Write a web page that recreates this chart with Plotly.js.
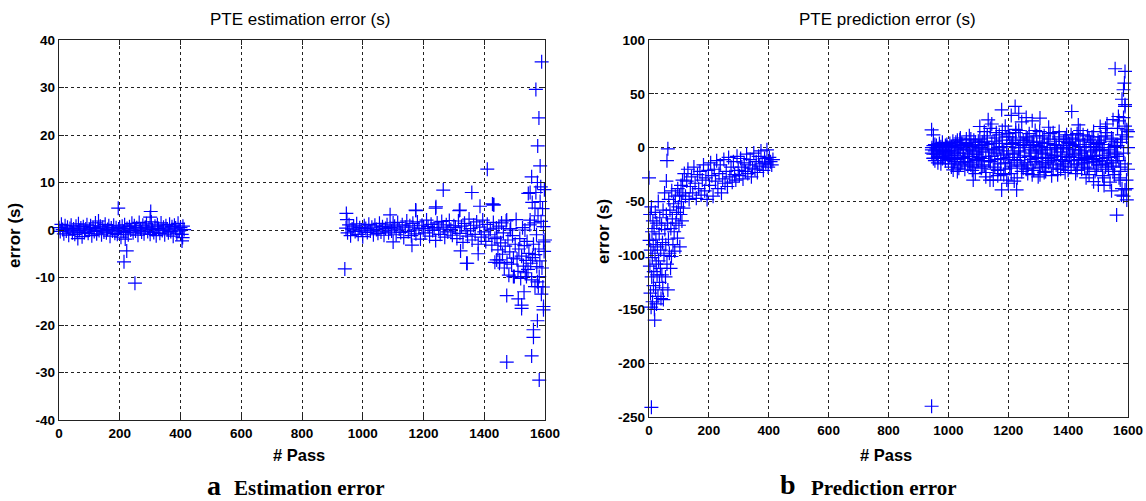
<!DOCTYPE html>
<html>
<head>
<meta charset="utf-8">
<script src="https://cdn.plot.ly/plotly-3.0.1.min.js"></script>
<style>html,body{margin:0;padding:0;background:#fff;}#chart{width:1146px;height:501px;}</style>
</head>
<body>
<div id="chart"></div>
<script>
// ---------- Panel a: PTE estimation error ----------
var estPassA = [0,4,8,12,16,20,24,28,32,36,40,44,48,52,56,60,64,68,72,76,80,84,88,92,96,100,104,108,112,116,120,124,128,132,136,140,144,148,152,156,160,164,168,172,176,180,184,188,192,196,200,204,208,212,216,220,224,228,232,236,240,244,248,252,256,260,264,268,272,276,280,284,288,292,296,300,304,308,312,316,320,324,328,332,336,340,344,348,352,356,360,364,368,372,376,380,384,388,392,396,400,404,408,412];
var estErrA = [0.5,-0.3,1.2,0.1,-0.8,0.9,-0.2,0.6,-1.1,0.3,1.0,-0.6,0.2,-0.9,0.8,-0.4,1.3,-0.1,0.4,-1.4,0.7,-0.5,0.2,1.1,-0.7,0.0,0.9,-1.2,0.5,-0.3,1.5,-0.8,0.3,-0.1,0.8,-1.0,0.6,-0.4,1.2,-0.6,0.1,0.9,-1.3,0.4,-0.2,1.0,-0.7,0.5,-0.9,0.2,0.6,-1.5,0.8,-0.3,1.1,-0.5,0.3,-1.0,0.7,0.0,1.4,-0.6,0.9,-0.2,0.5,-1.1,1.6,0.2,-0.4,1.0,-0.8,0.6,1.3,-0.3,0.4,-0.9,1.7,0.1,-0.5,0.8,-1.2,1.1,0.3,-0.7,1.5,-0.1,0.6,-1.0,0.9,0.2,-0.6,1.2,-0.3,0.7,-1.3,1.0,0.4,-0.8,1.4,-0.2,0.5,-0.9,0.8,0.1];
var estPassAOut = [195,214,223,218,250,300,302,407,405,62,130];
var estErrAOut  = [4.6,-6.7,-4.4,-1.9,-11.2,2.7,3.9,-1.6,-2.3,-1.8,1.9];

var estPassB = [945,950,955,960,965,970,975,980,985,990,995,1000,1005,1010,1015,1020,1025,1030,1035,1040,1045,1050,1055,1060,1065,1070,1075,1080,1085,1090,1095,1100,1105,1110,1115,1120,1125,1130,1135,1140,1145,1150,1155,1160,1165,1170,1175,1180,1185,1190,1195,1200,1205,1210,1215,1220,1225,1230,1235,1240,1245,1250,1255,1260,1265,1270,1275,1280,1285,1290,1295,1300,1305,1310,1315,1320,1325,1330,1335,1340,1345,1350,1355,1360,1365,1370,1375,1380,1385,1390,1395,1400,1405,1410,1415,1420,1425,1430,1435,1440];
var estErrB = [0.4,-0.6,1.1,-1.2,0.2,0.8,-0.3,1.3,-0.9,0.5,0.0,-1.4,0.9,0.3,-0.5,1.2,-0.2,0.6,-1.0,1.0,0.1,-0.7,1.4,-0.4,0.7,-1.1,0.3,1.1,-0.6,0.5,-0.2,1.5,
  0.8,-1.0,1.6,0.2,-0.5,1.1,-1.6,0.6,1.9,-0.3,0.9,-1.2,1.4,0.0,-0.8,1.7,0.4,-1.9,1.0,0.3,-0.6,2.1,0.7,-1.3,1.2,-0.1,0.5,-2.2,1.5,0.2,-0.9,1.8,0.6,-1.5,1.1,-0.4,2.0,0.1,-1.1,0.9,
  0.5,-1.8,1.9,-0.7,0.8,-2.6,1.4,-0.2,-1.3,2.3,0.3,-2.1,1.0,-0.9,1.7,-3.0,0.6,-1.5,2.1,-0.4,-2.4,1.2,-1.0,0.2,-3.2,1.6,-1.8,0.4];
var estPassC = [1442,1445,1448,1451,1454,1457,1460,1463,1466,1469,1472,1475,1478,1481,1484,1487,1490,1493,1496,1499,1502,1505,1508,1511,1514,1517,1520,1523,1526,1529,1532,1535,1538,1541,1544,1547,1550,1553,1556,1559];
var estErrC = [-1.5,-4.2,0.8,-6.3,-2.7,1.5,-5.1,-0.6,-8.0,-3.4,1.9,-6.8,-2.1,-9.5,-4.6,0.3,-7.2,-1.2,-5.9,-9.8,-3.0,2.2,-6.1,-8.7,-4.0,-1.8,-10.2,-5.5,0.5,-7.6,-3.3,-9.0,-6.4,-2.4,-8.3,-4.9,1.1,-7.0,-10.5,-5.8];
var estPassOut = [941,946,948,1090,1174,1175,1240,1241,1265,1318,1320,1359,1386,1410,1427,1430,1432,1100,1162,1322,1344,1342,1380,1435,1441,1450,1474,1474,1496,1512,1523,1523,1531,1539,1562,1562,1556,1567,1573,1575,1575,1578,1581,1581,1595,1595,1595,1600,1474,1485,1534,1545,1551,1551,1556,1558,1567,1570,1570,1575,1576,1580,1584,1584,1586,1589,1595,1562,1565,1568,1572,1577,1580,1583,1587,1590,1592,1597,1598,1593,1588];
var estErrOut  = [-8.2,3.5,2.2,3.2,4.2,4.1,4.6,4.9,8.4,4.1,4.2,7.9,5.0,12.8,5.5,5.3,5.3,-2.5,-3.2,-4.4,-7.0,-7.0,-5.0,-6.8,-6.3,-7.0,-13.8,-27.8,-9.8,-14.5,-15.8,-16.5,-13.0,-9.8,-21.0,-22.6,-26.5,-11.9,-7.7,-10.9,-19.1,-11.9,-9.8,-31.6,-16.1,-16.8,-2.5,-2.1,2.1,0.0,0.0,7.7,7.9,2.1,11.2,5.8,4.6,7.9,29.6,10.0,17.7,23.6,13.5,6.0,9.1,35.4,0.7,-3.0,1.5,-5.2,-1.0,3.0,-4.0,-6.5,1.8,-8.0,4.5,-4.5,8.5,-12.0,-13.5];

// ---------- Panel b: PTE prediction error ----------
var predPassA = [0,2,3,4,5,6,7,8,8,9,10,11,12,13,14,15,16,17,18,19,20,21,22,23,24,25,26,27,28,30,31,32,34,35,36,38,39,40,42,43,45,46,47,48,50,52,53,55,56,58,58,60,60,62,63,63,65,66,68,70,72,73,75,76,78,80,82,84,86,88,90,92,95,96,98,100,102,103,105,107,108,110,112,113,115];
var predErrA  = [-28,-86,-110,-62,-135,-95,-148,-55,-241,-120,-78,-102,-143,-68,-90,-128,-115,-75,-150,-160,-98,-60,-132,-85,-108,-145,-70,-118,-92,-138,-50,-105,-80,-125,-65,-112,-95,-140,-72,-118,-88,-130,-58,-141,-100,-42,-76,-120,-90,-31,-62,-12,-108,-70,-1,-132,-85,-48,-98,-58,-112,-75,-101,-40,-66,-90,-52,-78,-96,-45,-70,-60,-84,-38,-55,-72,-44,-92,-62,-35,-50,-68,-30,-42,-56];
var predPassB = [118,122,126,130,134,138,142,146,150,154,158,162,166,170,174,178,182,186,190,194,198,202,206,210,214,218,222,226,230,234,238,242,246,250,254,258,262,266,270,274,278,282,286,290,294,298,302,306,310,314,318,322,326,330,334,338,342,346,350,354,358,362,366,370,374,378,382,386,390,394,398,402,406,410,414];
var predErrB  = [-24,-45,-31,-20,-48,-36,-27,-42,-18,-33,-47,-25,-38,-22,-44,-30,-16,-40,-28,-48,-21,
  -35,-14,-26,-45,-20,-31,-12,-38,-24,-16,-42,-29,-11,-33,-22,-36,-9,-27,-18,-32,-13,-25,-30,-8,-21,
  -26,-10,-18,-29,-14,-22,-6,-24,-16,-11,-27,-19,-5,-20,-13,-23,-8,-17,-3,-15,-21,-10,-14,-2,-18,-9,-13,-16,-11];

var predPassC = [945,950,955,960,965,970,975,980,985,990,995,1000,1005,1010,1015,1020,1025,1030,1035,1040,1045,1050,1055,1060,1065,1070,1075,1080,1085,1090,1095,1100,1105,1110,1115,1120,1125,1130,1135,1140,1145,1150,1155,1160,1165,1170,1175,1180,1185,1190,1195,1200,1205,1210,1215,1220,1225,1230,1235,1240,1245,1250,1255,1260,1265,1270,1275,1280,1285,1290,1295,1300,1305,1310,1315,1320,1325,1330,1335,1340,1345,1350,1355,1360,1365,1370,1375,1380,1385,1390,1395,1400,1405,1410,1415,1420,1425,1430,1435,1440,1445,1450,1455,1460,1465,1470,1475,1480,1485,1490,1495,1500,1505,1510,1515,1520,1525,1530,1535,1540,1545,1550,1555,1560,1565,1570,1575,1580,1585,1590,1595,1600];
var predErrC1 = [-2,-10,3,-6,-14,0,-8,5,-4,-12,1,-7,
  -3,-18,6,-10,2,-22,-5,9,-14,-1,-20,4,-8,11,-16,-3,7,-24,-11,0,
  8,-19,-4,15,-27,3,-12,18,-8,-30,6,-2,-21,12,-15,1,-25,20,-6,-33,10,-17,4,-11,14,-28,-3,9,-22,2,
  -14,7,-24,13,-5,-19,3,16,-10,-27,5,-2,-16,11,-22,0,8,-12,-26,14,-7,2,-20,10,-4,-15,6,-23,12,-9,
  4,-18,9,-6,-24,13,-11,1,-20,7,-3,-28,11,-14,5,-8,15,-22,0,-16,
  -10,10,-26,3,-18,14,-5,-32,6,-22,1,-12,
  18,-28,5,-38,28,-15,10,-20];
var predErrC2 = [-5,2,-12,-1,-8,4,-15,-3,-9,2,-5,-11,
  4,-7,-15,0,-11,7,-19,-2,5,-9,-13,2,-17,-6,8,-21,-4,3,-12,6,
  -9,2,-16,6,-23,11,-4,-13,22,-1,-18,9,-26,4,-10,16,-7,-20,1,13,-14,-24,7,-5,17,-16,0,-9,24,-19,
  3,-20,9,-8,-2,-25,6,-13,11,-4,-18,1,9,-23,-6,4,-14,13,-9,-19,6,-1,-25,15,-11,0,-17,8,-6,-21,
  -8,12,-2,-15,3,-21,8,-5,-12,12,-18,0,-9,-25,3,10,-13,-2,-20,7,
  5,-16,-2,-28,11,-9,-20,0,-14,8,-25,-6,
  -8,25,-18,12,-45,40,-30,0];
var predErrC3 = [0,-6,-3,2,-9,-4,1,-10,-2,-6,3,-3,
  -9,1,-4,-13,5,-7,0,-16,3,-5,-10,8,-2,-14,1,-8,-18,5,-6,-12,
  -1,-10,5,-17,-2,9,-8,-13,4,-20,-5,14,-11,0,-24,7,-3,-14,10,-9,-19,3,-6,-31,5,-12,16,-4,-17,7,
  -7,10,-16,0,-11,5,-21,-3,2,-9,15,-14,-5,4,-18,-10,19,-2,-7,-12,3,-16,-4,8,-20,-8,2,-13,-1,5,
  -4,-12,2,-9,6,-16,-2,16,-7,-14,3,-10,-19,8,-4,-11,1,-7,-13,4,
  -3,3,-12,-7,18,-15,-2,-9,9,-17,-4,2,
  2,-12,-22,8,-5,20,-38,15];
var predPassOut = [944,950,944,950,1016,1038,1083,1105,1133,1139,1178,1178,1195,1210,1223,1228,1235,1260,1280,1306,1306,1412,1434,1485,1501,1507,1530,1550,1557,1568,1574,1585,1590,1590,1590,1596,1596,1562,1580,1588,1545,1520,1578];
var predErrOut  = [16.6,12,-240,-9.7,-20.6,7.3,-30,19.7,25.9,-30,35.2,-39.2,-30,30,38.3,-39.2,32,28,25,27.5,-25.2,33.6,21.2,-31.5,-34.6,19.7,22,26,73.3,29,-30,53.8,70.8,38.3,-39.2,16.6,-48.5,-62.5,45,60,-40,-35,-44];

// ---------- tick labels ----------
var xTicks = [0,200,400,600,800,1000,1200,1400,1600];
var xTickText = ['0','200','400','600','800','1000','1200','1400','1600'];
var estTicks = [-40,-30,-20,-10,0,10,20,30,40];
var estTickText = ['-40','-30','-20','-10','0','10','20','30','40'];
var predTicks = [-250,-200,-150,-100,-50,0,50,100];
var predTickText = ['-250','-200','-150','-100','-50','0','50','100'];

// ---------- build ----------
var W = 1146, H = 501;
function px(x){return x/W;}
function py(y){return 1 - y/H;}
var mk = {symbol:'cross-thin-open', size:10, color:'#0000ff', line:{color:'#0000ff', width:1.2}};
function tr(x, y, xa, ya){
  return {type:'scatter', mode:'markers', x:x, y:y, xaxis:xa, yaxis:ya, marker:mk, cliponaxis:false, hoverinfo:'skip'};
}
var data = [
  tr(estPassA, estErrA, 'x', 'y'),
  tr(estPassAOut, estErrAOut, 'x', 'y'),
  tr(estPassB, estErrB, 'x', 'y'),
  tr(estPassC, estErrC, 'x', 'y'),
  tr(estPassOut, estErrOut, 'x', 'y'),
  tr(predPassA, predErrA, 'x2', 'y2'),
  tr(predPassB, predErrB, 'x2', 'y2'),
  tr(predPassC, predErrC1, 'x2', 'y2'),
  tr(predPassC, predErrC2, 'x2', 'y2'),
  tr(predPassC, predErrC3, 'x2', 'y2'),
  tr(predPassOut, predErrOut, 'x2', 'y2')
];

var tickFont = {family:'Liberation Sans, Arial, sans-serif', size:13.5, color:'#000', weight:'bold'};
function axisBase(){
  return {showline:true, linecolor:'#222', linewidth:1.3, mirror:'ticks', ticks:'inside', ticklen:5, tickwidth:1, tickcolor:'#222',
    showgrid:true, gridcolor:'#222', gridwidth:1, griddash:'3px,3px', zeroline:false, tickfont:tickFont, fixedrange:true, tickmode:'array'};
}
var xa1 = Object.assign(axisBase(), {domain:[px(59), px(545)], range:[0,1600], tickvals:xTicks, ticktext:xTickText, anchor:'y'});
var ya1 = Object.assign(axisBase(), {domain:[py(420), py(40)], range:[-40,40], tickvals:estTicks, ticktext:estTickText, anchor:'x'});
var xa2 = Object.assign(axisBase(), {domain:[px(649), px(1128)], range:[0,1600], tickvals:xTicks, ticktext:xTickText, anchor:'y2'});
var ya2 = Object.assign(axisBase(), {domain:[py(417), py(40)], range:[-250,100], tickvals:predTicks, ticktext:predTickText, anchor:'x2'});

var sans = 'Liberation Sans, Arial, sans-serif';
var serif = 'Liberation Serif, Times New Roman, serif';
function ann(text, x, y, opts){
  return Object.assign({text:text, x:px(x), y:py(y), xref:'paper', yref:'paper', showarrow:false, xanchor:'center', yanchor:'middle',
    font:{family:sans, size:14, color:'#000'}}, opts||{});
}
var annotations = [
  ann('PTE estimation error (s)', 300, 19, {font:{family:sans, size:17, color:'#000'}}),
  ann('PTE prediction error (s)', 887, 19, {font:{family:sans, size:17, color:'#000'}}),
  ann('<b>error (s)</b>', 14, 236, {textangle:-90, font:{family:sans, size:17, color:'#000'}}),
  ann('<b>error (s)</b>', 603, 232, {textangle:-90, font:{family:sans, size:17, color:'#000'}}),
  ann('<b># Pass</b>', 299, 455, {font:{family:sans, size:16.5, color:'#000'}}),
  ann('<b># Pass</b>', 886, 455, {font:{family:sans, size:16.5, color:'#000'}}),
  ann('<b>a</b>', 214, 485, {font:{family:serif, size:28, color:'#000'}}),
  ann('<b>Estimation error</b>', 232, 488, {xanchor:'left', font:{family:serif, size:21, color:'#000'}}),
  ann('<b>b</b>', 788, 484, {font:{family:serif, size:28, color:'#000'}}),
  ann('<b>Prediction error</b>', 809, 488, {xanchor:'left', font:{family:serif, size:21, color:'#000'}})
];

var layout = {
  width:W, height:H, margin:{l:0, r:0, t:0, b:0}, showlegend:false,
  paper_bgcolor:'#fff', plot_bgcolor:'#fff',
  xaxis:xa1, yaxis:ya1, xaxis2:xa2, yaxis2:ya2,
  annotations:annotations
};
Plotly.newPlot('chart', data, layout, {displayModeBar:false, staticPlot:true});
</script>
</body>
</html>
